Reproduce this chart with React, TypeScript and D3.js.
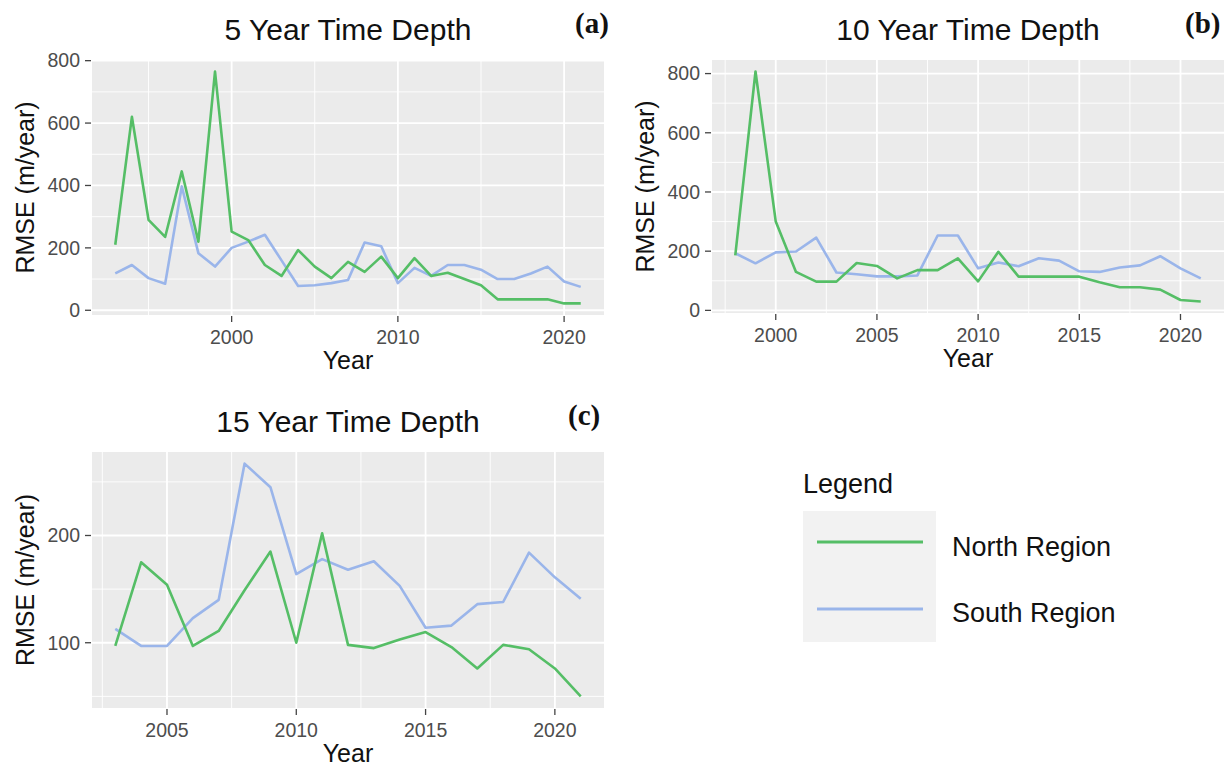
import * as d3 from 'd3';

// ---- data ----
const years5 = [1993, 1994, 1995, 1996, 1997, 1998, 1999, 2000, 2001, 2002, 2003, 2004, 2005, 2006, 2007, 2008, 2009, 2010, 2011, 2012, 2013, 2014, 2015, 2016, 2017, 2018, 2019, 2020, 2021];
const north5 = [210, 620, 290, 235, 445, 220, 765, 252, 225, 145, 110, 193, 140, 103, 155, 123, 172, 103, 167, 110, 120, 100, 80, 35, 35, 35, 35, 22, 22];
const south5 = [118, 145, 103, 85, 397, 183, 140, 200, 220, 242, 160, 78, 80, 87, 97, 217, 205, 87, 136, 110, 145, 145, 130, 100, 100, 118, 140, 92, 75];

const years10 = [1998, 1999, 2000, 2001, 2002, 2003, 2004, 2005, 2006, 2007, 2008, 2009, 2010, 2011, 2012, 2013, 2014, 2015, 2016, 2017, 2018, 2019, 2020, 2021];
const north10 = [186, 807, 300, 130, 97, 97, 160, 150, 108, 136, 136, 176, 98, 198, 114, 114, 114, 114, 95, 78, 78, 70, 35, 30];
const south10 = [193, 159, 196, 199, 246, 128, 122, 115, 115, 118, 253, 253, 142, 162, 149, 176, 168, 132, 130, 145, 152, 183, 142, 108];

const years15 = [2003, 2004, 2005, 2006, 2007, 2008, 2009, 2010, 2011, 2012, 2013, 2014, 2015, 2016, 2017, 2018, 2019, 2020, 2021];
const north15 = [97, 175, 154, 97, 111, 149, 185, 100, 202, 98, 95, 103, 110, 96, 76, 98, 94, 76, 50];
const south15 = [113, 97, 97, 123, 140, 267, 245, 164, 178, 168, 176, 153, 114, 116, 136, 138, 184, 161, 141];

const xMajor5 = [2000, 2010, 2020];
const xMinor5 = [1995, 2005, 2015];
const yMajor5 = [0, 200, 400, 600, 800];
const yMinor5 = [100, 300, 500, 700];

const xMajor10 = [2000, 2005, 2010, 2015, 2020];
const xMinor10 = [1997.5, 2002.5, 2007.5, 2012.5, 2017.5];
const yMajor10 = [0, 200, 400, 600, 800];
const yMinor10 = [100, 300, 500, 700];

const xMajor15 = [2005, 2010, 2015, 2020];
const xMinor15 = [2002.5, 2007.5, 2012.5, 2017.5];
const yMajor15 = [100, 200];
const yMinor15 = [50, 150, 250];

const seriesNames = ['North Region', 'South Region'];

const GREEN = '#55BE66';
const BLUE = '#9AB5EA';
const SANS = '"Liberation Sans", Arial, sans-serif';

// ggplot style 5% expansion
const expand = ([a, b]: number[]) => [a - 0.05 * (b - a), b + 0.05 * (b - a)];

const Panel = ({ title, tag, tagX, years, north, south, box, xMajor, xMinor, yMajor, yMinor }: any) => {
  const [x0, x1, y0, y1] = box;
  const x = d3.scaleLinear().domain(expand(d3.extent(years) as number[])).range([x0, x1]);
  const y = d3.scaleLinear().domain(expand(d3.extent([...north, ...south]) as number[])).range([y1, y0]);
  const line = d3.line<number>()
    .x((_, i) => x(years[i]))
    .y(d => y(d));
  const cx = (x0 + x1) / 2;

  return (
    <g>
      <rect x={x0} y={y0} width={x1 - x0} height={y1 - y0} fill="#EBEBEB" />
      {yMinor.map((v: number) => (
        <line key={'ym' + v} x1={x0} x2={x1} y1={y(v)} y2={y(v)} stroke="#fff" strokeWidth={0.9} />
      ))}
      {xMinor.map((v: number) => (
        <line key={'xm' + v} x1={x(v)} x2={x(v)} y1={y0} y2={y1} stroke="#fff" strokeWidth={0.9} />
      ))}
      {yMajor.map((v: number) => (
        <line key={'yM' + v} x1={x0} x2={x1} y1={y(v)} y2={y(v)} stroke="#fff" strokeWidth={1.8} />
      ))}
      {xMajor.map((v: number) => (
        <line key={'xM' + v} x1={x(v)} x2={x(v)} y1={y0} y2={y1} stroke="#fff" strokeWidth={1.8} />
      ))}
      <path d={line(south) || ''} fill="none" stroke={BLUE} strokeWidth={2.6} strokeLinejoin="round" />
      <path d={line(north) || ''} fill="none" stroke={GREEN} strokeWidth={2.6} strokeLinejoin="round" />

      {yMajor.map((v: number) => (
        <g key={'yt' + v}>
          <line x1={x0 - 7} x2={x0 - 1} y1={y(v)} y2={y(v)} stroke="#444" strokeWidth={1.3} />
          <text x={x0 - 12} y={y(v)} dy="0.35em" textAnchor="end" fontSize={19.5} fill="#4D4D4D" fontFamily={SANS}>{v}</text>
        </g>
      ))}
      {xMajor.map((v: number) => (
        <g key={'xt' + v}>
          <line x1={x(v)} x2={x(v)} y1={y1 + 1} y2={y1 + 7} stroke="#444" strokeWidth={1.3} />
          <text x={x(v)} y={y1 + 22} dy="0.35em" textAnchor="middle" fontSize={19.5} fill="#4D4D4D" fontFamily={SANS}>{v}</text>
        </g>
      ))}

      <text x={cx} y={y1 + 54} textAnchor="middle" fontSize={25} fill="#111" fontFamily={SANS}>Year</text>
      <text transform={`translate(${x0 - 67},${(y0 + y1) / 2}) rotate(-90)`} dy="0.35em" textAnchor="middle" fontSize={25} fill="#111" fontFamily={SANS}>RMSE (m/year)</text>
      <text x={cx} y={y0 - 20} textAnchor="middle" fontSize={30} fill="#111" fontFamily={SANS}>{title}</text>
      <text x={tagX} y={y0 - 27} fontSize={29} fontWeight="bold" fill="#111" fontFamily='"Liberation Serif", "DejaVu Serif", serif'>{tag}</text>
    </g>
  );
};

const App = () => {
  const legendColors = [GREEN, BLUE];
  return (
    <svg width={1230} height={773} style={{ position: 'absolute', left: 0, top: 0, background: '#fff' }}>
      <Panel title="5 Year Time Depth" tag="(a)" tagX={575} years={years5} north={north5} south={south5}
        box={[92, 604, 60, 315]} xMajor={xMajor5} xMinor={xMinor5} yMajor={yMajor5} yMinor={yMinor5} />
      <Panel title="10 Year Time Depth" tag="(b)" tagX={1185} years={years10} north={north10} south={south10}
        box={[712, 1224, 60, 313]} xMajor={xMajor10} xMinor={xMinor10} yMajor={yMajor10} yMinor={yMinor10} />
      <Panel title="15 Year Time Depth" tag="(c)" tagX={568} years={years15} north={north15} south={south15}
        box={[92, 604, 452, 708]} xMajor={xMajor15} xMinor={xMinor15} yMajor={yMajor15} yMinor={yMinor15} />

      {/* legend */}
      <text x={803} y={493} fontSize={27} fill="#111" fontFamily={SANS}>Legend</text>
      <rect x={803} y={511} width={133} height={131} fill="#F2F2F2" />
      {seriesNames.map((name, i) => (
        <g key={name}>
          <line x1={817} x2={923} y1={542 + i * 67} y2={542 + i * 67} stroke={legendColors[i]} strokeWidth={3} />
          <text x={952} y={547 + i * 66} dy="0.35em" fontSize={27} fill="#111" fontFamily={SANS}>{name}</text>
        </g>
      ))}
    </svg>
  );
};

export default App;
